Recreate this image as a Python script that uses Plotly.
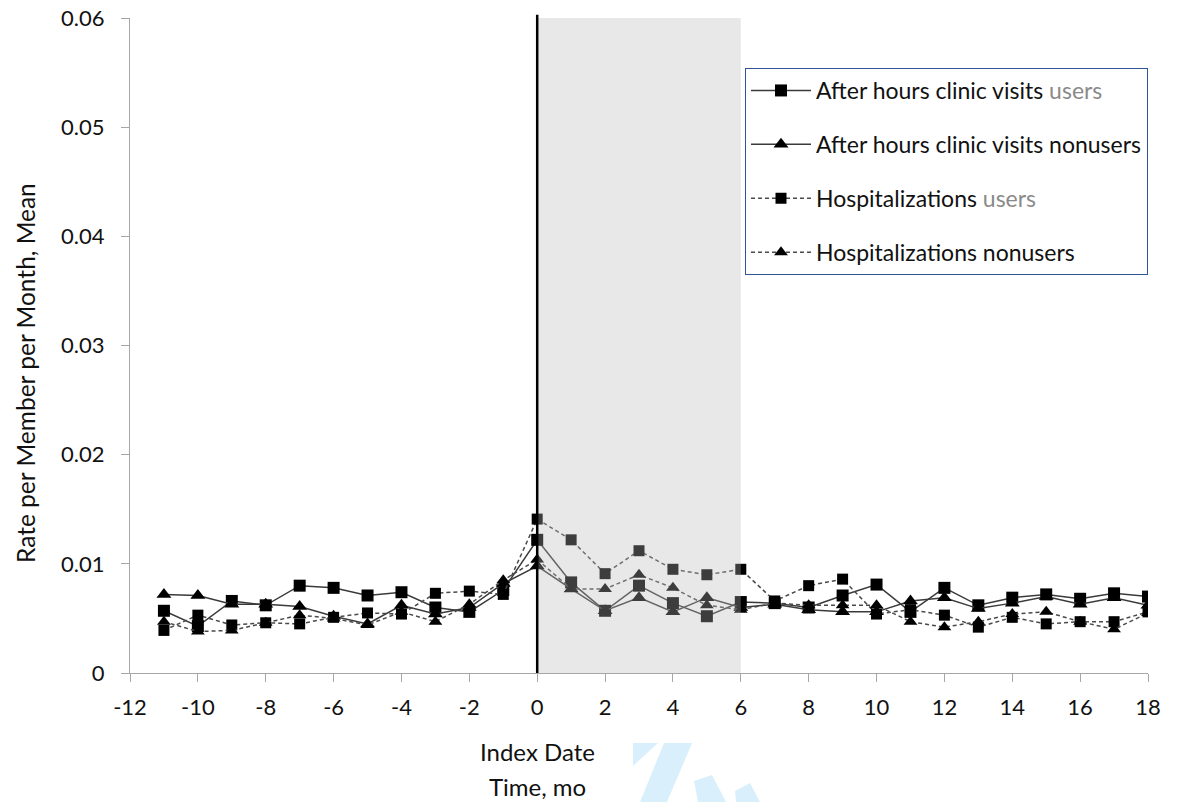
import plotly.graph_objects as go

months = list(range(-11, 19))

clinic_users = [0.0057, 0.0043, 0.0066, 0.0062, 0.0080, 0.0078, 0.0071, 0.0074, 0.0060, 0.0056,
                0.0076, 0.0122, 0.0083, 0.0057, 0.0080, 0.0064, 0.0052, 0.0065, 0.0064, 0.0060,
                0.0071, 0.0081, 0.0056, 0.0078, 0.0062, 0.0069, 0.0072, 0.0068, 0.0073, 0.0070]
clinic_nonusers = [0.0072, 0.0071, 0.0063, 0.0063, 0.0061, 0.0052, 0.0045, 0.0062, 0.0054, 0.0060,
                   0.0082, 0.0098, 0.0077, 0.0057, 0.0069, 0.0056, 0.0069, 0.0060, 0.0063, 0.0058,
                   0.0056, 0.0056, 0.0066, 0.0069, 0.0059, 0.0064, 0.0070, 0.0063, 0.0069, 0.0062]
hosp_users = [0.0039, 0.0053, 0.0044, 0.0046, 0.0045, 0.0051, 0.0055, 0.0054, 0.0073, 0.0075,
              0.0072, 0.0141, 0.0122, 0.0091, 0.0112, 0.0095, 0.0090, 0.0095, 0.0066, 0.0080,
              0.0086, 0.0054, 0.0058, 0.0053, 0.0042, 0.0051, 0.0045, 0.0047, 0.0047, 0.0056]
hosp_nonusers = [0.0047, 0.0038, 0.0039, 0.0046, 0.0053, 0.0050, 0.0044, 0.0056, 0.0047, 0.0063,
                 0.0085, 0.0104, 0.0077, 0.0077, 0.0090, 0.0078, 0.0062, 0.0058, 0.0064, 0.0062,
                 0.0062, 0.0062, 0.0047, 0.0042, 0.0047, 0.0054, 0.0056, 0.0047, 0.0040, 0.0055]

series_names = [
    "After hours clinic visits <span style='color:#8a8a8a'>users</span>",
    "After hours clinic visits nonusers",
    "Hospitalizations <span style='color:#8a8a8a'>users</span>",
    "Hospitalizations nonusers",
]

x_tick_vals = list(range(-12, 19, 2))
x_tick_text = [str(v) for v in x_tick_vals]
y_tick_vals = [0, 0.01, 0.02, 0.03, 0.04, 0.05, 0.06]
y_tick_text = ["0", "0.01", "0.02", "0.03", "0.04", "0.05", "0.06"]

shade_start, shade_end = 0, 6

FONT = "Lato"
W, H = 1188, 802
L, R, T, B = 130, 1148, 18, 673


def px(x):
    return (x - L) / (R - L)


def py(y):
    return (B - y) / (B - T)


fig = go.Figure()
styles = [
    dict(dash="solid", symbol="square", size=12, lc="#3a3a3a"),
    dict(dash="solid", symbol="triangle-up", size=13, lc="#3a3a3a"),
    dict(dash="4px,3px", symbol="square", size=11, lc="#4a4a4a"),
    dict(dash="4px,3px", symbol="triangle-up", size=12, lc="#4a4a4a"),
]
for i, (name, vals) in enumerate(zip(series_names,
                                      [clinic_users, clinic_nonusers, hosp_users, hosp_nonusers])):
    s = styles[i]
    fig.add_trace(go.Scatter(
        x=months, y=vals, mode="lines+markers", name=name, legendgroup=f"g{i}",
        line=dict(color=s["lc"], width=1.5, dash=s["dash"]),
        marker=dict(symbol=s["symbol"], size=s["size"], color="#000000"),
    ))

# shaded region (overlay above data, as in reference)
fig.add_shape(type="rect", xref="x", yref="y", x0=shade_start, x1=shade_end, y0=0, y1=0.06,
              fillcolor="rgba(185,185,185,0.33)", line=dict(width=0), layer="above")
fig.add_shape(type="line", xref="x", yref="paper", x0=0, x1=0, y0=0, y1=1.005,
              line=dict(color="#000000", width=2.5), layer="above")

# watermark fragments
wm = "#d9f0fc"
polys = [
    [(633, 743), (658, 743), (633, 766)],
    [(664, 743), (692, 743), (667, 802), (640, 802)],
    [(694, 781), (712, 775), (726, 802), (698, 802)],
    [(735, 791), (750, 783), (760, 802), (736, 802)],
]
for poly in polys:
    path = "M " + " L ".join(f"{px(a):.4f},{py(b):.4f}" for a, b in poly) + " Z"
    fig.add_shape(type="path", xref="paper", yref="paper", path=path,
                  fillcolor=wm, line=dict(width=0), layer="above")

fig.add_annotation(text="Rate per Member per Month, Mean", xref="paper", yref="paper",
                   x=px(25), y=py(373), xanchor="center", yanchor="middle",
                   textangle=-90, showarrow=False,
                   font=dict(family=FONT, size=24.5, color="#111111"))
fig.add_annotation(text="Index Date", xref="paper", yref="paper", x=px(537), y=py(751),
                   xanchor="center", yanchor="middle",
                   showarrow=False, font=dict(family=FONT, size=24, color="#111111"))
fig.add_annotation(text="Time, mo", xref="paper", yref="paper", x=px(537), y=py(786),
                   xanchor="center", yanchor="middle",
                   showarrow=False, font=dict(family=FONT, size=24, color="#111111"))

fig.update_layout(
    width=W, height=H,
    margin=dict(l=L, r=W - R, t=T, b=H - B, autoexpand=False),
    plot_bgcolor="white", paper_bgcolor="white",
    font=dict(family=FONT, size=20, color="#111111"),
    showlegend=True,
    legend=dict(x=px(745), y=py(68), xanchor="left", yanchor="top",
                bordercolor="#2f5597", borderwidth=1, bgcolor="white",
                traceorder="grouped", tracegroupgap=21, itemwidth=60,
                font=dict(family=FONT, size=23, color="#111111")),
    xaxis=dict(range=[-12, 18], tickvals=x_tick_vals, ticktext=x_tick_text,
               tickfont=dict(family=FONT, size=22, color="#111111"),
               showgrid=False, zeroline=False, showline=True, linecolor="#a6a6a6", linewidth=1.3,
               ticks="outside", ticklen=8, tickcolor="#a6a6a6", ticklabelstandoff=6,
               automargin=False),
    yaxis=dict(range=[0, 0.06], tickvals=y_tick_vals, ticktext=y_tick_text,
               tickfont=dict(family=FONT, size=22, color="#111111"),
               showgrid=False, zeroline=False, showline=True, linecolor="#a6a6a6", linewidth=1.3,
               ticks="outside", ticklen=8, tickcolor="#a6a6a6", ticklabelstandoff=12,
               automargin=False),
)

fig.write_html("out.html")
